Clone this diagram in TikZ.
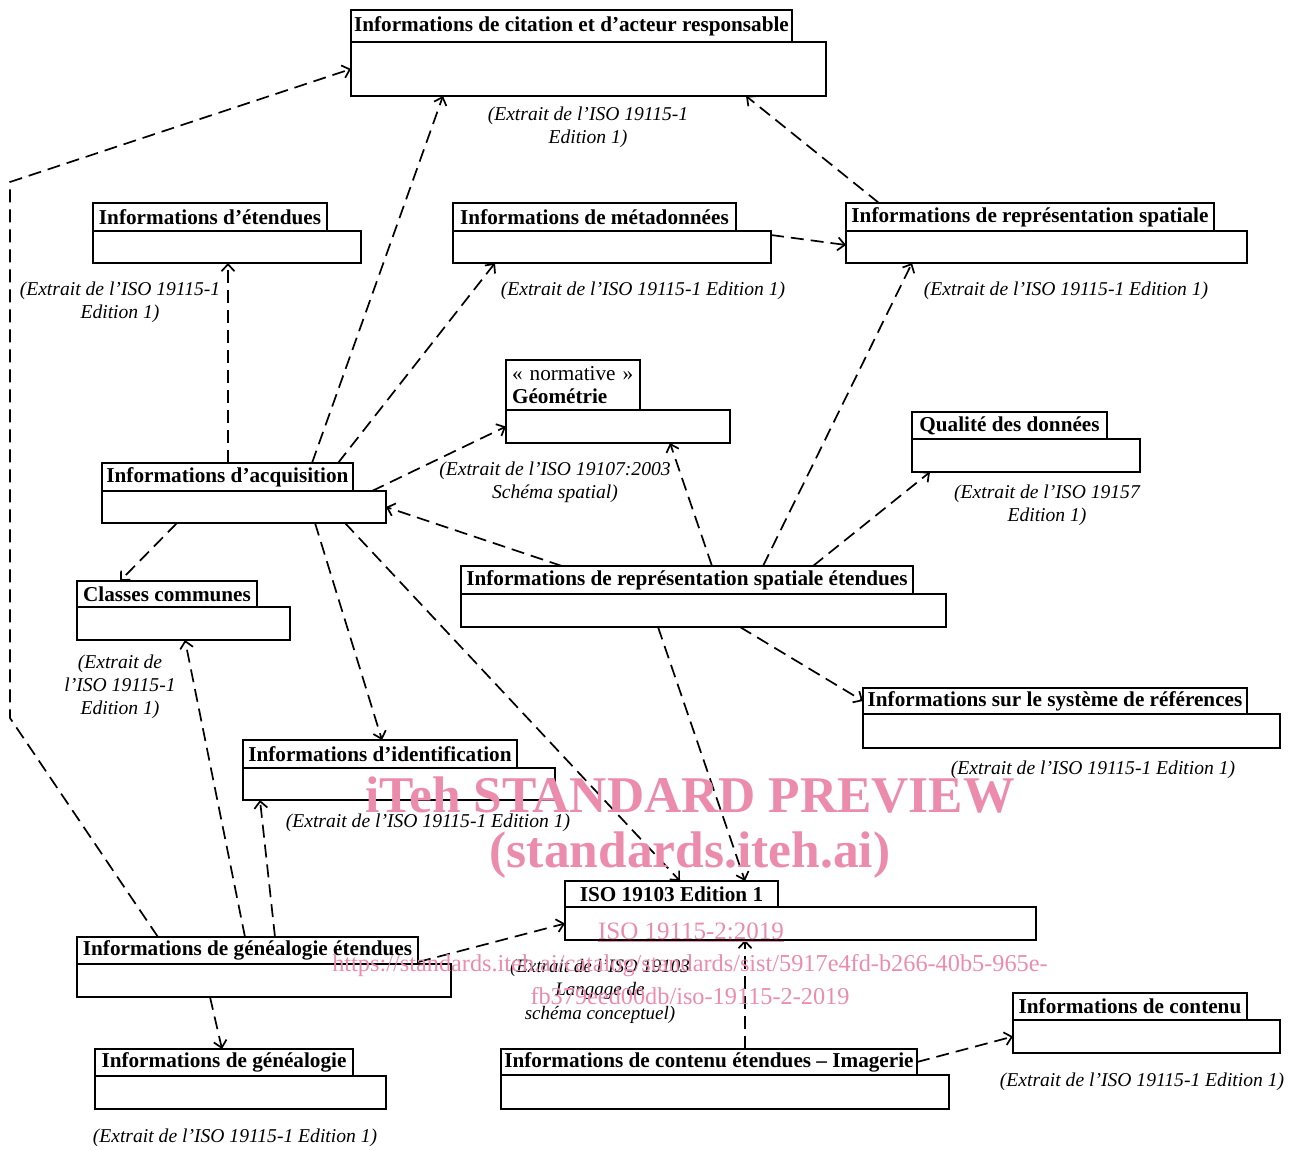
\documentclass[tikz,border=0pt]{standalone}
\usepackage{fontspec}
\setmainfont{Liberation Serif}
\usetikzlibrary{calc,arrows.meta}
\definecolor{wmpink}{RGB}{236,140,172}

\begin{document}
\begin{tikzpicture}[x=1pt,y=-1pt,inner sep=0pt,outer sep=0pt,
    pkgtab/.style 2 args={draw,line width=1.7pt,anchor=north west,minimum width=#1,minimum height=#2,
        align=center,font=\fontsize{21.2}{23}\selectfont\bfseries},
    pkgbody/.style 2 args={draw,line width=1.7pt,anchor=north west,minimum width=#1,minimum height=#2},
    note/.style={align=center,font=\fontsize{19.6}{23}\selectfont\itshape},
    dep/.style={line width=1.7pt,dash pattern=on 13pt off 7pt,-{Straight Barb[length=7pt,width=13pt]}},
    wm/.style={text=wmpink,align=center}]
    \useasboundingbox (0,0) rectangle (1293,1149);

    % citation
    \node[pkgtab={441pt}{32pt}] (cit_t) at (351,10) {Informations de citation et d’acteur responsable};
    \node[pkgbody={475pt}{54pt}] (cit_b) at (cit_t.south west) {};
    \node[note] (cit_n) at (588,127) {(Extrait de l’ISO 19115-1\\Edition 1)};

    % extents
    \node[pkgtab={234pt}{28pt}] (ext_t) at (93,203) {Informations d’étendues};
    \node[pkgbody={268pt}{32pt}] (ext_b) at (ext_t.south west) {};
    \node[note] (ext_n) at (120,302) {(Extrait de l’ISO 19115-1\\Edition 1)};

    % metadata
    \node[pkgtab={283pt}{28pt}] (meta_t) at (453,203) {Informations de métadonnées};
    \node[pkgbody={318pt}{32pt}] (meta_b) at (meta_t.south west) {};
    \node[note] (meta_n) at (643,291) {(Extrait de l’ISO 19115-1 Edition 1)};

    % spatial representation
    \node[pkgtab={368pt}{28pt}] (rsp_t) at (846,203) {Informations de représentation spatiale};
    \node[pkgbody={401pt}{32pt}] (rsp_b) at (rsp_t.south west) {};
    \node[note] (rsp_n) at (1066,291) {(Extrait de l’ISO 19115-1 Edition 1)};

    % geometry
    \node[pkgtab={134pt}{50pt},align=left,text width=122pt] (geo_t) at (506,360)
    {{\mdseries « normative »}\\Géométrie};
    \node[pkgbody={224pt}{33pt}] (geo_b) at (geo_t.south west) {};
    \node[note] (geo_n) at (555,482) {(Extrait de l’ISO 19107:2003\\Schéma spatial)};

    % data quality
    \node[pkgtab={195pt}{27pt}] (qual_t) at (912,412) {Qualité des données};
    \node[pkgbody={228pt}{33pt}] (qual_b) at (qual_t.south west) {};
    \node[note] (qual_n) at (1047,505) {(Extrait de l’ISO 19157\\Edition 1)};

    % acquisition
    \node[pkgtab={251pt}{28pt}] (acq_t) at (102,463) {Informations d’acquisition};
    \node[pkgbody={284pt}{32pt}] (acq_b) at (acq_t.south west) {};

    % common classes
    \node[pkgtab={180pt}{26pt}] (cls_t) at (77,581) {Classes communes};
    \node[pkgbody={213pt}{33pt}] (cls_b) at (cls_t.south west) {};
    \node[note] (cls_n) at (120,687) {(Extrait de\\l’ISO 19115-1\\Edition 1)};

    % extended spatial representation
    \node[pkgtab={452pt}{28pt}] (rse_t) at (461,566) {Informations de représentation spatiale étendues};
    \node[pkgbody={485pt}{33pt}] (rse_b) at (rse_t.south west) {};

    % reference system
    \node[pkgtab={384pt}{26pt}] (ref_t) at (863,688) {Informations sur le système de références};
    \node[pkgbody={417pt}{34pt}] (ref_b) at (ref_t.south west) {};
    \node[note] (ref_n) at (1093,770) {(Extrait de l’ISO 19115-1 Edition 1)};

    % identification
    \node[pkgtab={274pt}{28pt}] (ident_t) at (243,740) {Informations d’identification};
    \node[pkgbody={312pt}{32pt}] (ident_b) at (ident_t.south west) {};
    \node[note] (ident_n) at (428,823) {(Extrait de l’ISO 19115-1 Edition 1)};

    % ISO 19103
    \node[pkgtab={213pt}{26pt}] (iso_t) at (565,881) {ISO 19103 Edition 1};
    \node[pkgbody={471pt}{33pt}] (iso_b) at (iso_t.south west) {};
    \node[note,font=\fontsize{19}{23.5}\selectfont\itshape] (iso_n) at (600,991)
    {(Extrait de l’ISO 19103\\Langage de\\schéma conceptuel)};

    % extended lineage
    \node[pkgtab={341pt}{27pt}] (genx_t) at (77,937) {Informations de généalogie étendues};
    \node[pkgbody={374pt}{33pt}] (genx_b) at (genx_t.south west) {};

    % lineage
    \node[pkgtab={258pt}{27pt}] (gen_t) at (95,1049) {Informations de généalogie};
    \node[pkgbody={291pt}{33pt}] (gen_b) at (gen_t.south west) {};
    \node[note] (gen_n) at (235,1138) {(Extrait de l’ISO 19115-1 Edition 1)};

    % extended content (imagery)
    \node[pkgtab={416pt}{26pt}] (cont_t) at (501,1049) {Informations de contenu étendues – Imagerie};
    \node[pkgbody={448pt}{34pt}] (cont_b) at (cont_t.south west) {};

    % content
    \node[pkgtab={234pt}{27pt}] (ctn_t) at (1013,993) {Informations de contenu};
    \node[pkgbody={267pt}{33pt}] (ctn_b) at (ctn_t.south west) {};
    \node[note] (ctn_n) at (1142,1082) {(Extrait de l’ISO 19115-1 Edition 1)};

    % dependencies
    \draw[dep] ($(acq_t.north west)+(210,0)$) -- ($(cit_b.south west)+(92,0)$);
    \draw[dep] ($(acq_t.north west)+(126,0)$) -- ($(ext_b.south west)+(135,0)$);
    \draw[dep] ($(acq_t.north west)+(236,0)$) -- ($(meta_b.south west)+(42,0)$);
    \draw[dep] ($(acq_b.north west)+(270,0)$) -- (geo_b.west);
    \draw[dep] ($(acq_b.south west)+(75,0)$) -- ($(cls_t.north west)+(43,0)$);
    \draw[dep] ($(acq_b.south west)+(213,0)$) -- ($(ident_t.north west)+(139,0)$);
    \draw[dep] ($(acq_b.south west)+(243,0)$) -- ($(iso_t.north west)+(115,0)$);
    \draw[dep] ($(meta_b.north east)+(0,4)$) -- ($(rsp_b.north west)+(0,14)$);
    \draw[dep] ($(rsp_t.north west)+(33,0)$) -- ($(cit_b.south west)+(395,0)$);
    \draw[dep] ($(rse_t.north west)+(101,0)$) -- (acq_b.east);
    \draw[dep] ($(rse_t.north west)+(251,0)$) -- ($(geo_b.south west)+(164,0)$);
    \draw[dep] ($(rse_t.north west)+(302,0)$) -- ($(rsp_b.south west)+(66,0)$);
    \draw[dep] ($(rse_t.north west)+(352,0)$) -- ($(qual_b.south west)+(18,0)$);
    \draw[dep] ($(rse_b.south west)+(279,0)$) -- (ref_t.west);
    \draw[dep] ($(rse_b.south west)+(197,0)$) -- ($(iso_t.north west)+(180,0)$);
    \draw[dep] ($(genx_t.north west)+(81,0)$) -- (10,718) -- (10,182) -- (cit_b.west);
    \draw[dep] ($(genx_t.north west)+(168,0)$) -- ($(cls_b.south west)+(108,0)$);
    \draw[dep] ($(genx_t.north west)+(198,0)$) -- ($(ident_b.south west)+(17,0)$);
    \draw[dep] ($(genx_t.south east)+(0,-2)$) -- (iso_b.west);
    \draw[dep] ($(genx_b.south west)+(133,0)$) -- ($(gen_t.north west)+(127,0)$);
    \draw[dep] ($(cont_t.north west)+(244,0)$) -- ($(iso_b.south west)+(180,0)$);
    \draw[dep] (cont_t.east) -- (ctn_b.west);

    % watermark
    \node[wm,font=\fontsize{51.5}{54}\selectfont\bfseries] (wm1) at (690,795) {iTeh STANDARD PREVIEW};
    \node[wm,font=\fontsize{51.5}{54}\selectfont\bfseries] (wm2) at (690,855) {(standards.iteh.ai)};
    \node[wm,font=\fontsize{25}{28}\selectfont] (wm3) at (691,932) {\underline{ISO 19115-2:2019}};
    \node[wm,font=\fontsize{24.3}{28}\selectfont] (wm4) at (690,966)
    {https://standards.iteh.ai/catalog/standards/sist/5917e4fd-b266-40b5-965e-};
    \node[wm,font=\fontsize{24.3}{28}\selectfont] (wm5) at (690,996) {fb379eed00db/iso-19115-2-2019};
\end{tikzpicture}
\end{document}
